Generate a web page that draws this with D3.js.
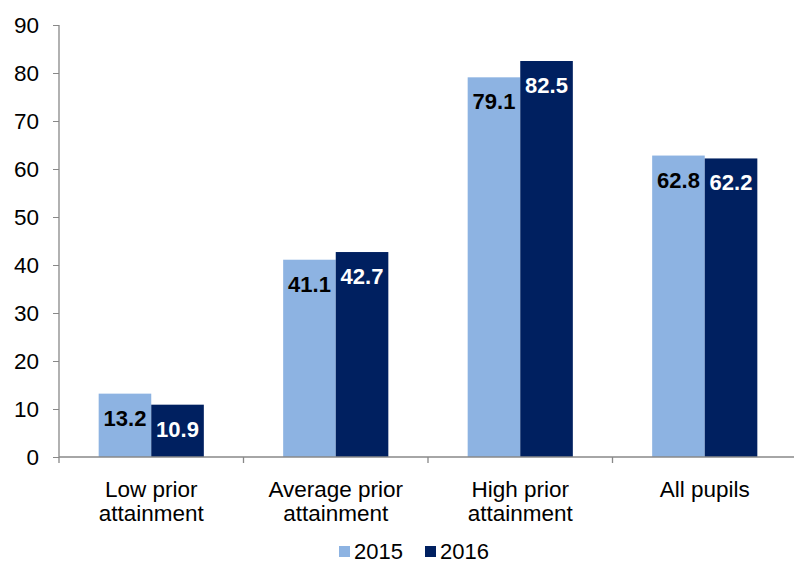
<!DOCTYPE html>
<html>
<head>
<meta charset="utf-8">
<script src="https://cdn.jsdelivr.net/npm/d3@7"></script>
<style>
  html, body { margin: 0; padding: 0; background: #fff; }
  svg { display: block; font-family: "Liberation Sans", Arial, sans-serif; }
</style>
</head>
<body>
<svg id="chart" width="794" height="565"></svg>
<script>
const categories = [["Low prior", "attainment"], ["Average prior", "attainment"], ["High prior", "attainment"], ["All pupils"]];
const seriesNames = ["2015", "2016"];
const values2015 = [13.2, 41.1, 79.1, 62.8];
const values2016 = [10.9, 42.7, 82.5, 62.2];
const yTicks = [0, 10, 20, 30, 40, 50, 60, 70, 80, 90];

(function () {
const colors = { "2015": "#8DB3E2", "2016": "#002060" };
const labelColors = { "2015": "#000", "2016": "#fff" };

const svg = d3.select("#chart");
const mLeft = 59, mRight = 797, mTop = 25, mBottom = 457;
const catKeys = categories.map((c, i) => i);

const y = d3.scaleLinear().domain([0, 90]).range([mBottom, mTop]);
const x0 = d3.scaleBand().domain(catKeys).range([mLeft, mRight]).paddingInner(0.43).paddingOuter(0.215);
const x1 = d3.scaleBand().domain(seriesNames).range([0, x0.bandwidth()]);
const step = x0.step();

const data = catKeys.map(i => ({ i, vals: [{ s: "2015", v: values2015[i] }, { s: "2016", v: values2016[i] }] }));

// bars
const g = svg.append("g");
const groups = g.selectAll("g.cat").data(data).join("g")
  .attr("transform", d => `translate(${x0(d.i)},0)`);
groups.selectAll("rect").data(d => d.vals).join("rect")
  .attr("x", d => x1(d.s))
  .attr("y", d => y(d.v))
  .attr("width", x1.bandwidth())
  .attr("height", d => y(0) - y(d.v))
  .attr("fill", d => colors[d.s]);
groups.selectAll("text").data(d => d.vals).join("text")
  .attr("x", d => x1(d.s) + x1.bandwidth() / 2)
  .attr("y", d => y(d.v) + 32)
  .attr("text-anchor", "middle")
  .attr("font-size", 22)
  .attr("font-weight", "bold")
  .attr("fill", d => labelColors[d.s])
  .text(d => d.v.toFixed(1));

// y axis
const yAxis = d3.axisLeft(y).tickValues(yTicks).tickSize(6).tickPadding(14);
const ya = svg.append("g").attr("transform", `translate(${mLeft},0)`).call(yAxis);
ya.select(".domain").remove();
ya.selectAll(".tick line").attr("stroke", "#888");
ya.selectAll(".tick text").attr("font-size", 22.5).attr("fill", "#000").attr("font-family", "Liberation Sans, Arial, sans-serif");
svg.append("line").attr("x1", mLeft).attr("x2", mLeft).attr("y1", y(90)).attr("y2", mBottom + 6)
  .attr("stroke", "#888").attr("stroke-width", 1.3);

// x axis
svg.append("line").attr("x1", mLeft).attr("x2", 794).attr("y1", mBottom).attr("y2", mBottom)
  .attr("stroke", "#888").attr("stroke-width", 1.3);
const boundaries = [1, 2, 3, 4];
svg.selectAll("line.xt").data(boundaries).join("line")
  .attr("class", "xt")
  .attr("x1", k => mLeft + step * k).attr("x2", k => mLeft + step * k)
  .attr("y1", mBottom).attr("y2", mBottom + 6)
  .attr("stroke", "#888").attr("stroke-width", 1.3);

// category labels
const cl = svg.selectAll("text.cat").data(data).join("text")
  .attr("class", "cat")
  .attr("x", d => x0(d.i) + x0.bandwidth() / 2)
  .attr("y", 497)
  .attr("text-anchor", "middle")
  .attr("font-size", 22.5)
  .attr("fill", "#000");
cl.selectAll("tspan").data(d => categories[d.i].map((t, j) => ({ t, j, cx: x0(d.i) + x0.bandwidth() / 2 }))).join("tspan")
  .attr("x", d => d.cx)
  .attr("dy", d => d.j === 0 ? 0 : 24)
  .text(d => d.t);

// legend
const legendItems = [{ s: "2015", x: 339 }, { s: "2016", x: 425 }];
const lg = svg.selectAll("g.leg").data(legendItems).join("g").attr("class", "leg")
  .attr("transform", d => `translate(${d.x},0)`);
lg.append("rect").attr("x", 0).attr("y", 546).attr("width", 11).attr("height", 11)
  .attr("fill", d => colors[d.s]);
lg.append("text").attr("x", 15).attr("y", 559).attr("font-size", 22).attr("fill", "#000")
  .text(d => d.s);
})();
</script>
</body>
</html>
